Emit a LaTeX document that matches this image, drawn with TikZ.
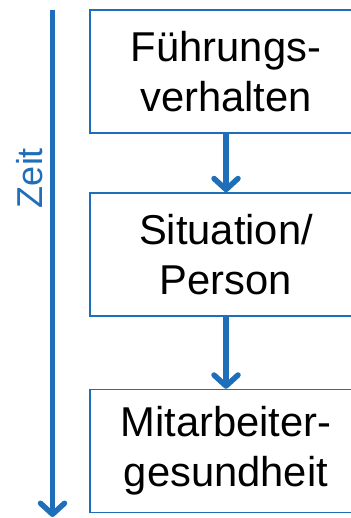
\documentclass[tikz,border=0pt]{standalone}
\usepackage{fontspec}
\setmainfont{Liberation Sans}
\usetikzlibrary{arrows.meta}
\definecolor{zblue}{RGB}{31,110,185}
\tikzset{
  box/.style={draw=zblue, line width=1.5pt, inner sep=0pt, minimum width=272pt, minimum height=123pt,
    align=center, font=\fontsize{41.7}{50}\selectfont, text=black},
  arr/.style={draw=zblue, line width=5.5pt, -{Straight Barb[length=11pt, width=24pt, line cap=round, line join=round]}},
}
\begin{document}
\begin{tikzpicture}[x=1pt, y=-1pt]
\useasboundingbox (0,0) rectangle (350,518);
\node[box] (b1) at (226,71.5) {Führungs-\\verhalten};
\node[box] (b2) at (226,254.5) {Situation/\\Person};
\node[box] (b3) at (226,451) {Mitarbeiter-\\gesundheit};
\draw[arr] (b1.south) -- (b2.north);
\draw[arr] (b2.south) -- (b3.north);
\coordinate (t0) at (52.5,10);
\coordinate (t1) at (52.5,517);
\draw[arr] (t0) -- (t1);
\node[rotate=90, text=zblue, font=\fontsize{36}{40}\selectfont, inner sep=0pt] (zeit) at (30,178) {Zeit};
\end{tikzpicture}
\end{document}
